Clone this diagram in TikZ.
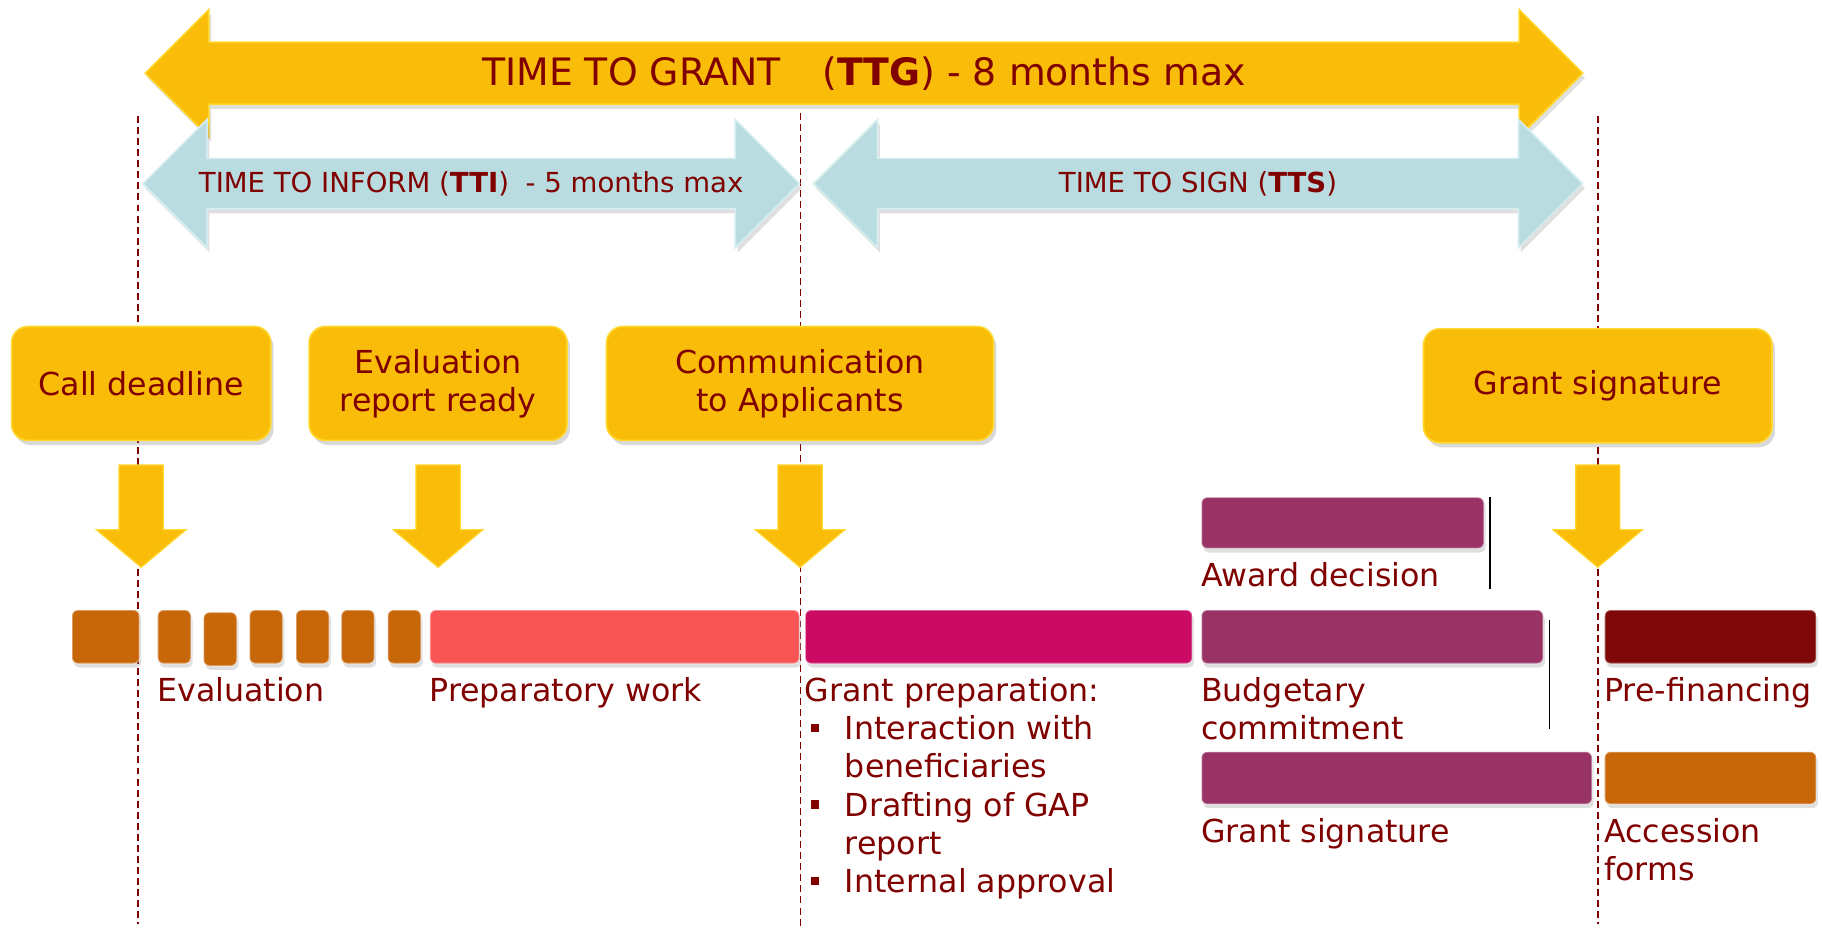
\documentclass[tikz,border=0pt]{standalone}
\usepackage{fontspec}
\setmainfont{DejaVu Sans}
\usetikzlibrary{positioning, shapes.arrows, shadows}

\definecolor{darkred}{RGB}{128,0,0}
\definecolor{gold}{RGB}{249,189,9}
\definecolor{goldrim}{RGB}{255,215,45}
\definecolor{iceblue}{RGB}{184,220,224}
\definecolor{icerim}{RGB}{214,238,241}
\definecolor{evalorange}{RGB}{200,102,10}
\definecolor{coral}{RGB}{250,85,85}
\definecolor{grantpink}{RGB}{203,10,100}
\definecolor{plum}{RGB}{153,51,102}
\definecolor{maroon}{RGB}{128,8,8}

\newcommand{\bulitem}{\makebox[6.9mm][l]{\hspace{1mm}\rule[1.25mm]{1.5mm}{1.5mm}}}
\newcommand{\bulgap}{\hspace*{6.9mm}}

\begin{document}
\begin{tikzpicture}
			[x=0.2mm, y=-0.2mm, font=\fontsize{15.5}{18.7}\selectfont, text=darkred]
			
			\tikzstyle{spanarrow} = [double arrow, double arrow tip angle=90, text height=0pt, text depth=0pt, inner xsep=0pt, line width=0.8pt, drop shadow={opacity=0.25, shadow xshift=0.4mm, shadow yshift=-0.8mm}]
			
			\tikzstyle{spantext} = [inner sep=0pt, font=\fontsize{13.5}{16}\selectfont]
			
			\tikzstyle{milestone} = [rectangle, rounded corners=2.8mm, minimum height=19.6mm, fill=gold, draw=goldrim, line width=0.8pt, align=center, drop shadow={opacity=0.3, shadow xshift=0.5mm, shadow yshift=-0.8mm}]
			
			\tikzstyle{dnarrow} = [single arrow, rotate=-90, anchor=tail, minimum height=17.6mm, single arrow head extend=3.9mm, single arrow tip angle=100, text height=0pt, text depth=0pt, inner xsep=0pt, inner ysep=3.7mm, fill=gold, draw=goldrim, line width=0.6pt]
			
			\tikzstyle{taskbar} = [rectangle, rounded corners=1mm, minimum height=9.2mm, inner sep=0pt, draw=white, draw opacity=0.35, line width=0.8pt, drop shadow={opacity=0.25, shadow xshift=0.3mm, shadow yshift=-0.7mm}]
			
			\tikzstyle{evslot} = [taskbar, fill=evalorange, minimum width=5.7mm]
			
			\tikzstyle{lbl} = [inner sep=0pt, align=left]
			
			\tikzstyle{dline} = [darkred, line width=0.8pt, dash pattern=on 1.2mm off 0.7mm]
			
			\tikzstyle{tickline} = [black, line width=0.6pt]
			
			\useasboundingbox (0,0) rectangle (1568,799);
			
			\coordinate (d1t) at (119,100);
			\coordinate (d1b) at (119,795);
			\coordinate (d2t) at (689,97);
			\coordinate (d2b) at (689,799);
			\coordinate (d3t) at (1375,100);
			\coordinate (d3b) at (1375,795);
			\draw [dline] (d1t) -- (d1b);
			\draw [dline] (d2t) -- (d2b);
			\draw [dline] (d3t) -- (d3b);
			
			\node (ttg) [spanarrow, fill=gold, draw=goldrim, minimum height=247.4mm, inner ysep=5.2mm, double arrow head extend=5.6mm] at (743.5,63) {};
			\node (tti) [spanarrow, fill=iceblue, draw=icerim, minimum height=113mm, inner ysep=4.2mm, double arrow head extend=6.7mm] at (405.5,158) {};
			\node (tts) [spanarrow, fill=iceblue, draw=icerim, minimum height=132.4mm, inner ysep=4.2mm, double arrow head extend=6.7mm] at (1031,158) {};
			
			\node (ttglbl) [spantext, font=\fontsize{18.5}{22}\selectfont] at (ttg) {TIME TO GRANT\hspace{1.1em}(\textbf{TTG}) - 8 months max};
			\node (ttilbl) [spantext] at (tti) {TIME TO INFORM (\textbf{TTI})\hspace{0.6em}- 5 months max};
			\node (ttslbl) [spantext] at (tts) {TIME TO SIGN (\textbf{TTS})};
			
			\node (cdl) [milestone, minimum width=44.6mm] at (121.5,330) {Call deadline};
			\node (erep) [milestone, minimum width=44.4mm] at (377,330) {Evaluation\\report ready};
			\node (comm) [milestone, minimum width=66.6mm] at (688.5,330) {Communication\\to Applicants};
			\node (gsig) [milestone, minimum width=60mm] at (1375,332) {Grant signature};
			
			\node (cdlarr) [dnarrow] at ([yshift=-4mm]cdl.south) {};
			\node (ereparr) [dnarrow] at ([yshift=-4mm]erep.south) {};
			\node (commarr) [dnarrow] at ([yshift=-4mm]comm.south) {};
			\node (gsigarr) [dnarrow] at ([yshift=-3.6mm]gsig.south) {};
			
			\node (ev0) [taskbar, fill=evalorange, minimum width=11.6mm] at (91,548) {};
			\node (ev1) [evslot] at (150,548) {};
			\node (ev2) [evslot] at (189.5,550) {};
			\node (ev3) [evslot] at (229,548) {};
			\node (ev4) [evslot] at (269,548) {};
			\node (ev5) [evslot] at (308,548) {};
			\node (ev6) [evslot] at (348,548) {};
			\node (prep) [taskbar, fill=coral, minimum width=63.6mm] at (529,548) {};
			\node (gprep) [taskbar, fill=grantpink, minimum width=66.6mm] at (859.5,548) {};
			\node (budg) [taskbar, fill=plum, minimum width=58.8mm] at (1181,548) {};
			\node (pref) [taskbar, fill=maroon, minimum width=36.4mm] at (1472,548) {};
			\node (awd) [taskbar, fill=plum, minimum width=48.6mm, minimum height=8.8mm] at (1155.5,450) {};
			\node (gsbar) [taskbar, fill=plum, minimum width=67.2mm, minimum height=9mm] at (1202,669.5) {};
			\node (accf) [taskbar, fill=evalorange, minimum width=36.4mm, minimum height=9mm] at (1472,669.5) {};
			
			\node (evlbl) [lbl, below right=2.2mm and 0pt of ev1.south west] {Evaluation};
			\node (preplbl) [lbl, below right=2.2mm and 0pt of prep.south west] {Preparatory work};
			\node (gpreplbl) [lbl, below right=2.2mm and 0pt of gprep.south west] {Grant preparation:\\\bulitem Interaction with\\\bulgap beneficiaries\\\bulitem Drafting of GAP\\\bulgap report\\\bulitem Internal approval};
			\node (budglbl) [lbl, below right=2.2mm and 0pt of budg.south west] {Budgetary\\commitment};
			\node (preflbl) [lbl, below right=2.2mm and 0pt of pref.south west] {Pre-financing};
			\node (awdlbl) [lbl, below right=2.2mm and 0pt of awd.south west] {Award decision};
			\node (gsbarlbl) [lbl, below right=2.2mm and 0pt of gsbar.south west] {Grant signature};
			\node (accflbl) [lbl, below right=2.2mm and 0pt of accf.south west] {Accession\\forms};
			
			\coordinate (awdtick) at ([xshift=0.9mm]awd.north east);
			\draw [tickline] (awdtick) -- ++(0,80);
			\coordinate (budtick) at ([xshift=1mm, yshift=-1.8mm]budg.north east);
			\draw [tickline] (budtick) -- ++(0,94);
			
		\end{tikzpicture}
\end{document}
